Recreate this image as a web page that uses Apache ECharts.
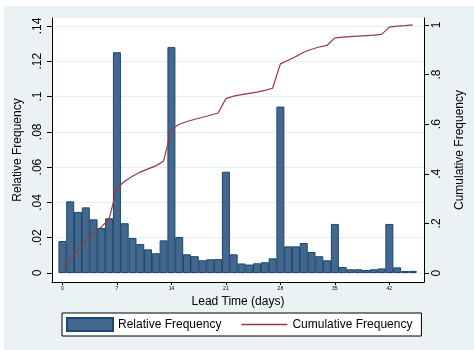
<!DOCTYPE html>
<html>
<head>
<meta charset="utf-8">
<script src="https://cdn.jsdelivr.net/npm/echarts@6/dist/echarts.min.js"></script>
<style>
html,body{margin:0;padding:0;background:#fff;}
#c{position:absolute;left:4px;top:6px;width:470px;height:344px;}
</style>
</head>
<body>
<div id="c"></div>
<script>
// Lead time in days (0..45)
const days = [0,1,2,3,4,5,6,7,8,9,10,11,12,13,14,15,16,17,18,19,20,21,22,23,24,25,26,27,28,29,30,31,32,33,34,35,36,37,38,39,40,41,42,43,44,45];
// Relative frequency per day
const relFreq = [0.0181,0.0406,0.0346,0.0372,0.0304,0.0255,0.0310,0.1251,0.0282,0.0198,0.0164,0.0134,0.0112,0.0185,0.1280,0.0204,0.0106,0.0095,0.0072,0.0078,0.0079,0.0574,0.0106,0.0054,0.0048,0.0055,0.0061,0.0083,0.0943,0.0151,0.0151,0.0170,0.0119,0.0095,0.0072,0.0278,0.0034,0.0021,0.0021,0.0017,0.0021,0.0026,0.0278,0.0032,0.0011,0.0012];
// Cumulative frequency per day
const cumFreq = [0.019,0.059,0.093,0.130,0.160,0.186,0.218,0.342,0.370,0.390,0.407,0.420,0.432,0.452,0.580,0.600,0.611,0.620,0.628,0.636,0.645,0.703,0.713,0.719,0.724,0.729,0.736,0.745,0.843,0.858,0.873,0.890,0.902,0.911,0.918,0.948,0.951,0.953,0.955,0.957,0.959,0.962,0.991,0.995,0.997,1.000];
// Tick values and labels
const xTicks = [0,7,14,21,28,35,42];
const leftTicks = [0,0.02,0.04,0.06,0.08,0.10,0.12,0.14];
const leftTickLabels = ["0",".02",".04",".06",".08",".1",".12",".14"];
const rightTicks = [0,0.2,0.4,0.6,0.8,1];
const rightTickLabels = ["0",".2",".4",".6",".8","1"];

function lab(ticks, labels){
  return function(v){
    let bi=0, bd=1e9;
    ticks.forEach((t,i)=>{const d=Math.abs(t-v); if(d<bd){bd=d;bi=i;}});
    return labels[bi];
  };
}

const FONT = '"Liberation Sans", Arial, sans-serif';
const chart = echarts.init(document.getElementById('c'));
chart.setOption({
  backgroundColor:'#eaf2f3',
  animation:false,
  textStyle:{fontFamily:FONT},
  grid:{left:48,right:41,top:12,bottom:68,show:true,backgroundColor:'#fff',borderWidth:0},
  legend:{
    left:58, top:307, orient:'horizontal',
    backgroundColor:'#fff', borderColor:'#000', borderWidth:1,
    padding:[4,9,4,4], itemWidth:46, itemHeight:13, itemGap:20,
    textStyle:{fontSize:12,color:'#000',fontFamily:FONT},
    data:[
      {name:'Relative Frequency',icon:'rect'},
      {name:'Cumulative Frequency',icon:'path://M0,0L100,0L100,3L0,3Z'}
    ]
  },
  xAxis:{
    type:'value', min:-1.34, max:46.45,
    name:'Lead Time (days)', nameLocation:'middle', nameGap:12,
    nameTextStyle:{fontSize:12,color:'#000',fontFamily:FONT},
    axisLine:{show:true,onZero:false,lineStyle:{color:'#000',width:1}},
    axisTick:{show:true,length:3,customValues:xTicks,lineStyle:{color:'#000'}},
    axisLabel:{customValues:xTicks,fontSize:5,color:'#000',margin:4},
    splitLine:{show:false}
  },
  yAxis:[{
    type:'value', min:-0.0051, max:0.1445, position:'left',
    name:'Relative Frequency', nameLocation:'middle', nameGap:24, nameRotate:90,
    nameTextStyle:{fontSize:12,color:'#000',fontFamily:FONT},
    axisLine:{show:true,onZero:false,lineStyle:{color:'#000',width:1}},
    axisTick:{show:true,length:5,customValues:leftTicks,lineStyle:{color:'#000'}},
    axisLabel:{customValues:leftTicks,rotate:90,margin:8,fontSize:12,color:'#000',formatter:lab(leftTicks,leftTickLabels)},
    splitLine:{show:true,lineStyle:{color:'#e6eef0',width:1}}
  },{
    type:'value', min:-0.036, max:1.028, position:'right',
    name:'Cumulative Frequency', nameLocation:'middle', nameGap:30, nameRotate:90,
    nameTextStyle:{fontSize:12,color:'#000',fontFamily:FONT},
    axisLine:{show:true,onZero:false,lineStyle:{color:'#000',width:1}},
    axisTick:{show:true,length:5,customValues:rightTicks,lineStyle:{color:'#000'}},
    axisLabel:{customValues:rightTicks,rotate:90,margin:7,fontSize:12,color:'#000',formatter:lab(rightTicks,rightTickLabels)},
    splitLine:{show:false}
  }],
  series:[{
    name:'Relative Frequency', type:'bar', xAxisIndex:0, yAxisIndex:0,
    barWidth:8,
    itemStyle:{color:'#44688d',borderColor:'#1a476f',borderWidth:1},
    data: days.map((d,i)=>[d,relFreq[i]])
  },{
    name:'Cumulative Frequency', type:'line', xAxisIndex:0, yAxisIndex:1,
    symbol:'none', showSymbol:false,
    lineStyle:{color:'#98383f',width:1.2},
    itemStyle:{color:'#98383f'},
    data: days.map((d,i)=>[d,cumFreq[i]])
  }]
});
</script>
</body>
</html>
